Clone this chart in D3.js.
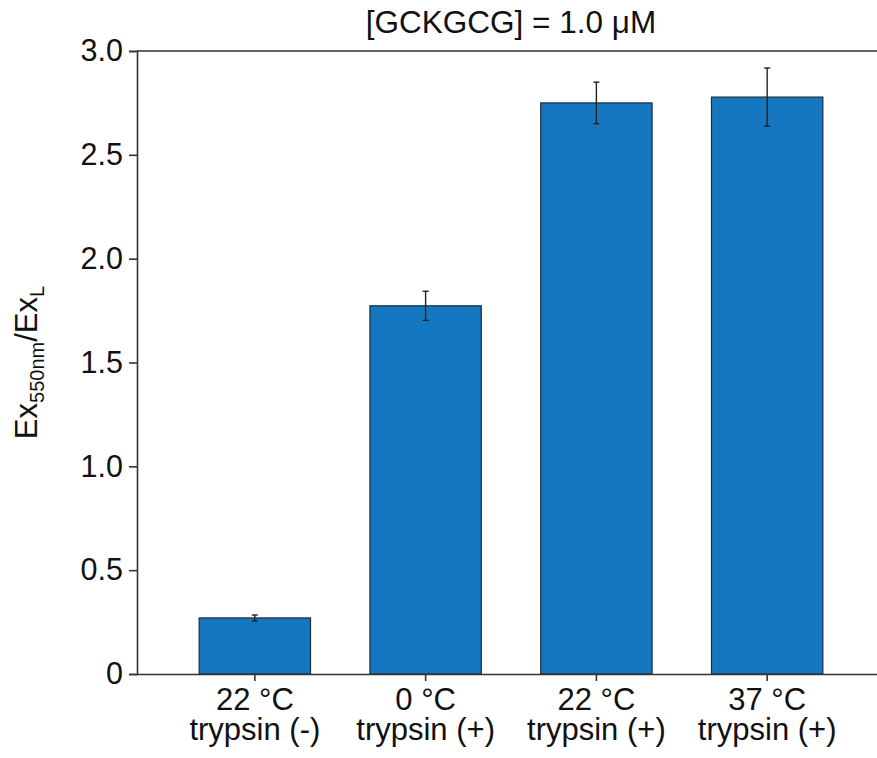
<!DOCTYPE html>
<html>
<head>
<meta charset="utf-8">
<script src="https://cdn.jsdelivr.net/npm/d3@7"></script>
<style>
  html, body { margin: 0; padding: 0; background: #fff; }
  svg { display: block; font-family: "Liberation Sans", Arial, sans-serif; }
</style>
</head>
<body>
<svg id="chart" width="877" height="758"></svg>
<script>
// Conditions (two-line labels), mean ratio and error
const conditions = ["22 °C|trypsin (-)", "0 °C|trypsin (+)", "22 °C|trypsin (+)", "37 °C|trypsin (+)"];
const ratios = [0.27, 1.773, 2.75, 2.778];
const errors = [0.014, 0.07, 0.10, 0.14];
const yTicks = [0, 0.5, 1.0, 1.5, 2.0, 2.5, 3.0];
const titleText = "[GCKGCG] = 1.0 μM";

const svg = d3.select("#chart");
const margin = { left: 137, top: 51, bottom: 674, right: 885 };

const x = d3.scaleBand()
  .domain(conditions)
  .range([margin.left, margin.right])
  .paddingInner(0.348)
  .paddingOuter(0.364);

const y = d3.scaleLinear()
  .domain([0, 3.0])
  .range([margin.bottom, margin.top]);

const axisColor = "#333";

// bars
svg.append("g").selectAll("rect")
  .data(conditions)
  .join("rect")
  .attr("x", d => x(d))
  .attr("width", x.bandwidth())
  .attr("y", (d, i) => y(ratios[i]))
  .attr("height", (d, i) => y(0) - y(ratios[i]))
  .attr("fill", "#1677c1")
  .attr("stroke", "#1d2b3b")
  .attr("stroke-width", 1.2);

// error bars
const eg = svg.append("g").attr("stroke", "#222").attr("stroke-width", 1.4);
conditions.forEach((c, i) => {
  const cx = x(c) + x.bandwidth() / 2;
  const hi = y(ratios[i] + errors[i]);
  const lo = y(ratios[i] - errors[i]);
  eg.append("line").attr("x1", cx).attr("x2", cx).attr("y1", hi).attr("y2", lo);
  eg.append("line").attr("x1", cx - 3).attr("x2", cx + 3).attr("y1", hi).attr("y2", hi);
  eg.append("line").attr("x1", cx - 3).attr("x2", cx + 3).attr("y1", lo).attr("y2", lo);
});

// y axis
const yAxis = svg.append("g")
  .attr("transform", `translate(${margin.left},0)`)
  .call(d3.axisLeft(y).tickValues(yTicks).tickSize(8).tickPadding(6)
    .tickFormat(d => d === 0 ? "0" : d3.format(".1f")(d)));
yAxis.select(".domain").attr("stroke", axisColor).attr("stroke-width", 1.6);
yAxis.selectAll(".tick line").attr("stroke", axisColor).attr("stroke-width", 1.6);
yAxis.selectAll(".tick text").attr("fill", "#111").style("font-size", "30.5px")
  .attr("font-family", "Liberation Sans, Arial, sans-serif");

// x axis
const xAxis = svg.append("g")
  .attr("transform", `translate(0,${margin.bottom})`)
  .call(d3.axisBottom(x).tickSize(7).tickSizeOuter(0).tickFormat(""));
xAxis.select(".domain").attr("stroke", axisColor).attr("stroke-width", 1.6);
xAxis.selectAll(".tick line").attr("stroke", axisColor).attr("stroke-width", 1.6);
xAxis.selectAll(".tick").each(function(d) {
  const lines = d.split("|");
  const t = d3.select(this).append("text")
    .attr("fill", "#111")
    .attr("text-anchor", "middle")
    .style("font-size", "31px");
  lines.forEach((ln, k) => {
    t.append("tspan").attr("x", 0).attr("y", 36 + k * 30).text(ln);
  });
});

// top frame line
svg.append("line")
  .attr("x1", margin.left).attr("x2", margin.right)
  .attr("y1", margin.top).attr("y2", margin.top)
  .attr("stroke", axisColor).attr("stroke-width", 1.6);

// title
svg.append("text")
  .attr("x", (margin.left + margin.right) / 2)
  .attr("y", 33)
  .attr("text-anchor", "middle")
  .attr("fill", "#111")
  .style("font-size", "31.5px")
  .text(titleText);

// y axis label with subscripts
const yl = svg.append("text")
  .attr("transform", `translate(37,${(margin.top + margin.bottom) / 2}) rotate(-90)`)
  .attr("text-anchor", "middle")
  .attr("fill", "#111")
  .style("font-size", "31px");
yl.append("tspan").text("Ex");
yl.append("tspan").attr("dy", 7).style("font-size", "20px").text("550nm");
yl.append("tspan").attr("dy", -7).text("/Ex");
yl.append("tspan").attr("dy", 7).style("font-size", "20px").text("L");
</script>
</body>
</html>
